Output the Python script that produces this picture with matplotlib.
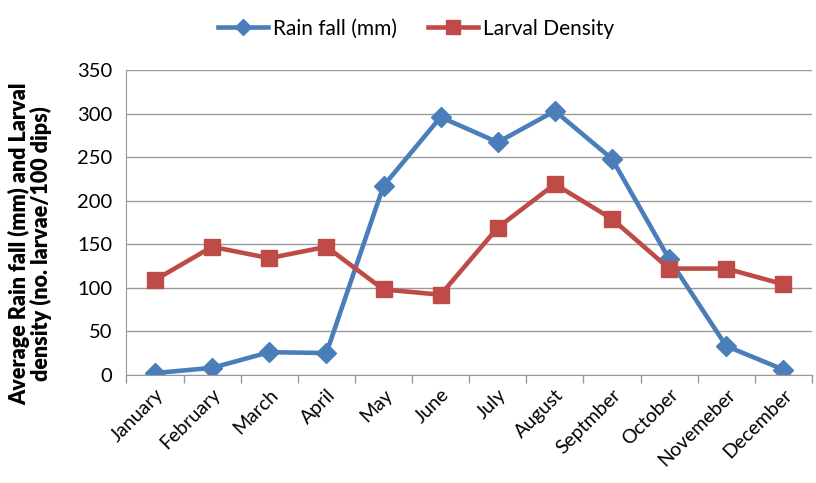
import numpy as np
import matplotlib
matplotlib.use("Agg")
from matplotlib import pyplot as plt

months = ["January", "February", "March", "April", "May", "June", "July",
          "August", "Septmber", "October", "Novemeber", "December"]
rain_fall = [2, 8, 26, 25, 217, 296, 267, 303, 248, 133, 33, 6]
larval_density = [109, 147, 134, 147, 98, 92, 169, 219, 179, 122, 122, 104]

plt.rcParams['font.family'] = ['Lato', 'DejaVu Sans']

fig = plt.figure(figsize=(8.16, 4.83), dpi=100)
ax = fig.add_axes([0.155, 0.224, 0.84, 0.631])

x = np.arange(len(months))
ax.plot(x, rain_fall, color="#4a7ebb", lw=3.3, marker="D", ms=10,
        label="Rain fall (mm)")
ax.plot(x, larval_density, color="#be4b48", lw=3.3, marker="s", ms=12,
        label="Larval Density")

ax.set_xlim(-0.5, len(months) - 0.5)
ax.set_ylim(0, 350)
ax.set_yticks(range(0, 351, 50))
ax.tick_params(axis="y", length=0, labelsize=14.5, pad=10)
ax.set_xticks(x)
ax.set_xticklabels(months, rotation=45, ha="right", rotation_mode="anchor",
                   fontsize=14)
ax.tick_params(axis="x", length=0, pad=8)
# tick marks between categories
ax.set_xticks(np.arange(-0.5, len(months), 1), minor=True)
ax.tick_params(axis="x", which="minor", length=6, color="#999999", width=1)

ax.grid(axis="y", color="#9a9a9a", lw=1)
ax.set_axisbelow(True)
for s in ["top", "right"]:
    ax.spines[s].set_visible(False)
ax.spines["left"].set_color("#999999")
ax.spines["bottom"].set_color("#999999")

ax.set_ylabel("Average Rain fall (mm) and Larval\ndensity (no. larvae/100 dips)",
              fontsize=15.5, fontweight="heavy", linespacing=1.0)
ax.yaxis.set_label_coords(-0.108, 0.43)

fig.legend(loc="upper center", bbox_to_anchor=(0.51, 1.0), ncol=2,
           frameon=False, fontsize=15, handlelength=2.4, columnspacing=1.5,
           handletextpad=0.25, markerscale=0.8)

fig.savefig("out.png", dpi=100)
